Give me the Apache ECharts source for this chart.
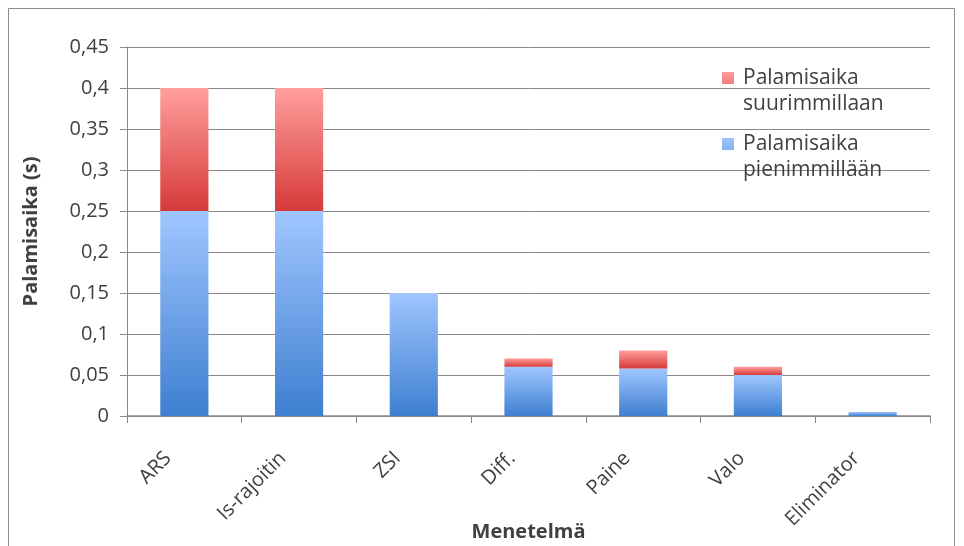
<!DOCTYPE html>
<html>
<head>
<meta charset="utf-8">
<script src="https://cdn.jsdelivr.net/npm/echarts@6/dist/echarts.min.js"></script>
<style>
  html, body { margin: 0; padding: 0; background: #ffffff; }
  #chart { width: 964px; height: 546px; }
</style>
</head>
<body>
<div id="chart"></div>
<script>
// Menetelmät ja palamisajat (s)
const categories = ['ARS', 'Is-rajoitin', 'ZSI', 'Diff.', 'Paine', 'Valo', 'Eliminator'];
const minTimes = [0.25, 0.25, 0.15, 0.06, 0.058, 0.05, 0.005];
// Lisäys pienimmästä suurimpaan palamisaikaan
const extraTimes = [0.15, 0.15, 0, 0.01, 0.022, 0.01, 0];
const seriesNames = ['Palamisaika\nsuurimmillaan', 'Palamisaika\npienimmillään'];

const font = '"Open Sans", "DejaVu Sans", sans-serif';
const textColor = '#404040';
const lineColor = '#8e8686';

function grad(top, bottom) {
  return new echarts.graphic.LinearGradient(0, 0, 0, 1, [
    { offset: 0, color: top },
    { offset: 1, color: bottom }
  ]);
}

// Swatch drawn in the upper part of a tall icon box so it sits beside the first text line
const swatchIcon = 'path://M0,0L12,0L12,12L0,12Z M0,38L0,38';

function legendEntry(name, top) {
  return {
    orient: 'vertical',
    left: 722,
    top: top,
    padding: 0,
    itemWidth: 12,
    itemHeight: 38,
    icon: swatchIcon,
    data: [name],
    textStyle: {
      fontFamily: font,
      fontSize: 21,
      color: textColor,
      lineHeight: 26,
      padding: [0, 0, 0, 4]
    }
  };
}

const chart = echarts.init(document.getElementById('chart'));
chart.setOption({
  animation: false,
  backgroundColor: '#ffffff',
  graphic: [{
    type: 'rect',
    shape: { x: 8.5, y: 8.5, width: 946, height: 546 },
    style: { fill: 'none', stroke: '#8c8c8c', lineWidth: 1 },
    silent: true
  }],
  grid: { left: 127, right: 34, top: 47, bottom: 130, outerBoundsMode: 'none' },
  legend: [legendEntry(seriesNames[0], 65), legendEntry(seriesNames[1], 131)],
  xAxis: {
    type: 'category',
    data: categories,
    name: 'Menetelmä',
    nameLocation: 'middle',
    nameGap: 106,
    nameMoveOverlap: false,
    nameTextStyle: { fontFamily: font, fontSize: 20, fontWeight: 'bold', color: textColor },
    axisLine: { lineStyle: { color: lineColor, width: 1.5 } },
    axisTick: { show: true, length: 7, lineStyle: { color: lineColor } },
    axisLabel: {
      rotate: 45,
      interval: 0,
      margin: 23,
      align: 'right',
      verticalAlign: 'middle',
      padding: [0, 23, 0, 0],
      fontFamily: font,
      fontSize: 20,
      color: textColor
    }
  },
  yAxis: {
    type: 'value',
    min: 0,
    max: 0.45,
    interval: 0.05,
    name: 'Palamisaika (s)',
    nameLocation: 'middle',
    nameGap: 86,
    nameMoveOverlap: false,
    nameTextStyle: { fontFamily: font, fontSize: 20, fontWeight: 'bold', color: textColor },
    axisLine: { show: true, lineStyle: { color: lineColor } },
    axisTick: { show: true, length: 7, lineStyle: { color: lineColor } },
    splitLine: { lineStyle: { color: lineColor, width: 1 } },
    axisLabel: {
      margin: 18,
      fontFamily: font,
      fontSize: 20,
      color: textColor,
      formatter: v => String(Math.round(v * 100) / 100).replace('.', ',')
    }
  },
  series: [
    {
      name: seriesNames[1],
      type: 'bar',
      stack: 'aika',
      barWidth: '42%',
      data: minTimes,
      itemStyle: { color: grad('#a0c6ff', '#3e7fd0') }
    },
    {
      name: seriesNames[0],
      type: 'bar',
      stack: 'aika',
      barWidth: '42%',
      data: extraTimes,
      itemStyle: { color: grad('#ff9f9c', '#d63a3a') }
    }
  ]
});
</script>
</body>
</html>
